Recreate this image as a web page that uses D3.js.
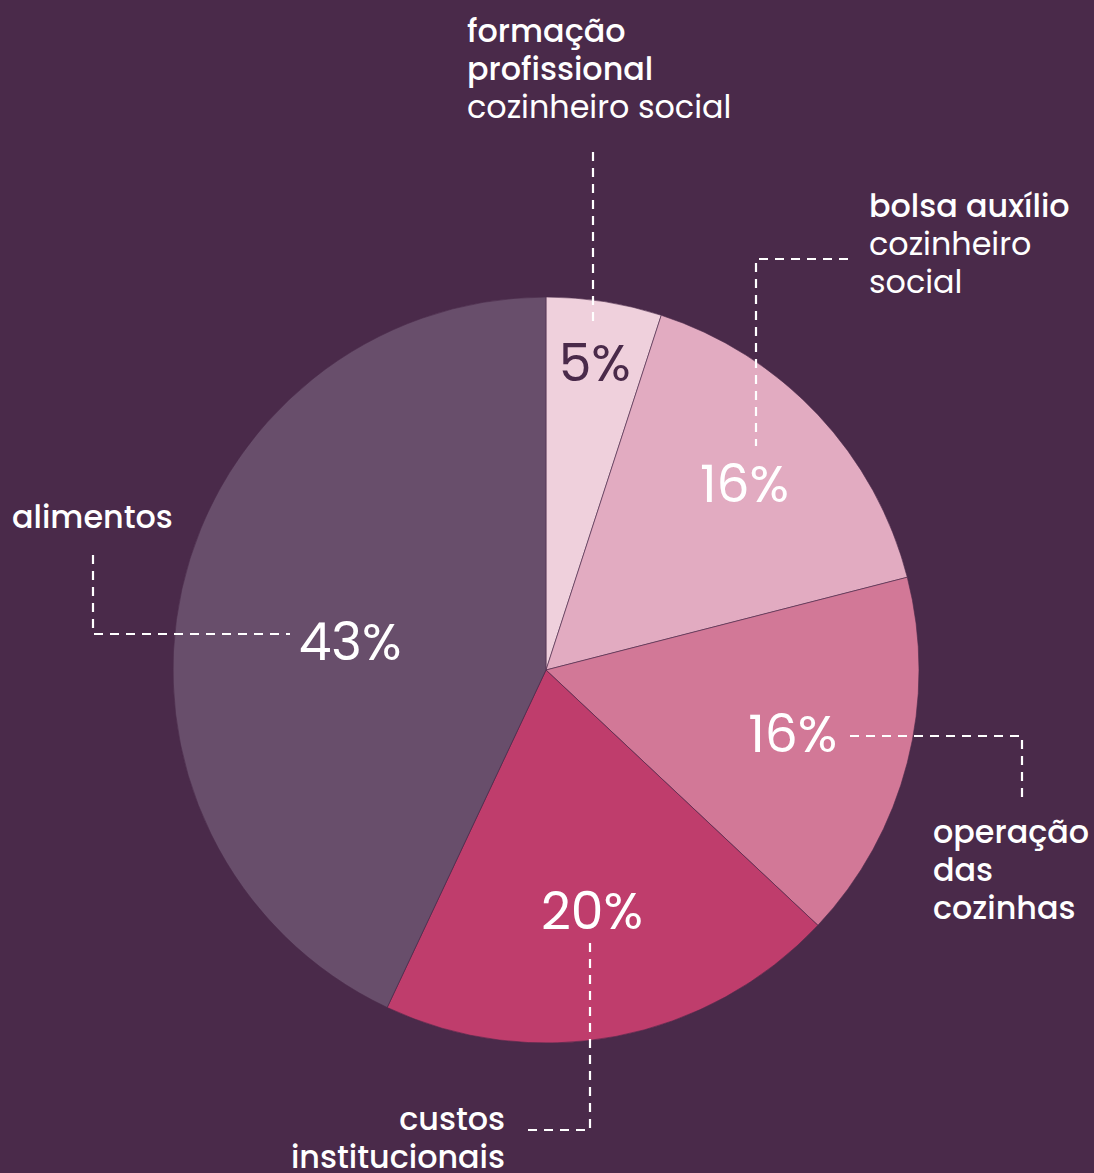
<!DOCTYPE html>
<html><head><meta charset="utf-8">
<script src="https://cdn.jsdelivr.net/npm/d3@7"></script>
<style>
html,body{margin:0;padding:0;background:#4a2a4a;}
svg{display:block;}
text{font-family:Poppins,"Open Sans","Noto Sans",sans-serif;}
</style></head>
<body><svg id="chart" width="1094" height="1173"></svg>
<script>
const categories = ["formação profissional cozinheiro social","bolsa auxílio cozinheiro social","operação das cozinhas","custos institucionais","alimentos"];
const values = [5, 16, 16, 20, 43];
const colors = ["#efd0dc","#e2abc1","#d27897","#bf3d6c","#684e6b"];
const pctColors = ["#4a2a4a","#ffffff","#ffffff","#ffffff","#ffffff"];

const W = 1094, H = 1173, cx = 546, cy = 670, R = 373;
const svg = d3.select("#chart");
svg.append("rect").attr("width",W).attr("height",H).attr("fill","#4a2a4a");

const pie = d3.pie().sort(null).value(d=>d);
const arcs = pie(values);
const arc = d3.arc().innerRadius(0).outerRadius(R);
const g = svg.append("g").attr("transform",`translate(${cx},${cy})`);
g.selectAll("path").data(arcs).join("path")
  .attr("d",arc).attr("fill",(d,i)=>colors[i])
  .attr("stroke","#4a2a4a").attr("stroke-width",0.6);

// percent labels: radius factor and angle offset (degrees) from slice middle
const labelK = [0.835, 0.73, 0.683, 0.657, 0.531];
const labelDA = [0, 0, 0, 0, -4.2];
const pctFmt = d => d + "%";
g.selectAll("text.pct").data(arcs).join("text").attr("class","pct")
  .attr("transform",(d,i)=>{
    const a = (d.startAngle + d.endAngle)/2 + labelDA[i]*Math.PI/180;
    const r = R*labelK[i];
    return `translate(${r*Math.sin(a)},${-r*Math.cos(a)})`;
  })
  .attr("text-anchor","middle").attr("dy","0.36em")
  .attr("font-size",52).attr("font-weight",400)
  .attr("fill",(d,i)=>pctColors[i]).text(d=>pctFmt(d.data));

// leader lines
const leaders = [
  [[593,152],[593,326]],
  [[848,259],[756,259],[756,446]],
  [[1022,797],[1022,736],[848,736]],
  [[590,943],[590,1130],[528,1130]],
  [[93,555],[93,634],[290,634]]
];
svg.selectAll("path.lead").data(leaders).join("path").attr("class","lead")
  .attr("d",d=>d3.line()(d)).attr("fill","none").attr("stroke","#fff")
  .attr("stroke-width",2.2).attr("stroke-dasharray","9,7");

// category labels
const labelLines = [
  [["formação",500],["profissional",500],["cozinheiro social",400]],
  [["bolsa auxílio",500],["cozinheiro",400],["social",400]],
  [["operação",500],["das",500],["cozinhas",500]],
  [["custos",500],["institucionais",500]],
  [["alimentos",500]]
];
const labelPos = [[467,42,"start"],[869,217,"start"],[933,843,"start"],[505,1130,"end"],[12,528,"start"]];
labelLines.forEach((lines,i)=>{
  const [x,y,anchor] = labelPos[i];
  const t = svg.append("text").attr("x",x).attr("y",y).attr("text-anchor",anchor)
    .attr("font-size",31.8).attr("fill","#fff");
  lines.forEach((l,j)=>{
    t.append("tspan").attr("x",x).attr("dy",j===0?0:38.2).attr("font-weight",l[1]).text(l[0]);
  });
});
</script></body></html>
